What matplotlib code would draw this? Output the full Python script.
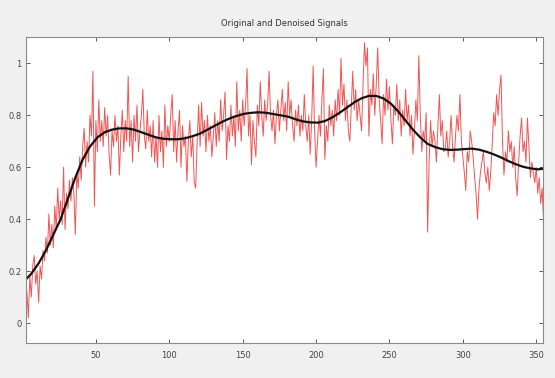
import numpy as np
import matplotlib
matplotlib.use("Agg")
import matplotlib.pyplot as plt

# Noisy original signal, samples 1..356
original = [
    -0.07, 0.05, 0.12, 0.02, 0.18, 0.10, 0.22, 0.26, 0.15, 0.20,
    0.08, 0.22, 0.17, 0.28, 0.24, 0.33, 0.27, 0.42, 0.30, 0.38,
    0.29, 0.45, 0.36, 0.52, 0.40, 0.47, 0.38, 0.60, 0.36, 0.50,
    0.44, 0.55, 0.47, 0.56, 0.50, 0.34, 0.58, 0.52, 0.64, 0.55,
    0.68, 0.75, 0.60, 0.70, 0.62, 0.80, 0.72, 0.97, 0.45, 0.78,
    0.66, 0.86, 0.70, 0.78, 0.68, 0.83, 0.72, 0.80, 0.65, 0.57,
    0.74, 0.68, 0.80, 0.70, 0.76, 0.57, 0.72, 0.82, 0.66, 0.78,
    0.70, 0.95, 0.68, 0.78, 0.62, 0.80, 0.70, 0.84, 0.66, 0.74,
    0.80, 0.90, 0.72, 0.67, 0.82, 0.70, 0.76, 0.64, 0.78, 0.62,
    0.72, 0.60, 0.80, 0.66, 0.74, 0.60, 0.84, 0.68, 0.76, 0.70,
    0.80, 0.88, 0.66, 0.78, 0.62, 0.74, 0.82, 0.60, 0.76, 0.68,
    0.72, 0.545, 0.70, 0.78, 0.64, 0.72, 0.54, 0.52, 0.70, 0.84,
    0.68, 0.85, 0.72, 0.78, 0.66, 0.80, 0.70, 0.76, 0.64, 0.72,
    0.81, 0.68, 0.78, 0.70, 0.86, 0.74, 0.80, 0.89, 0.63, 0.76,
    0.70, 0.84, 0.72, 0.80, 0.68, 0.93, 0.74, 0.82, 0.70, 0.86,
    0.76, 0.84, 0.98, 0.72, 0.80, 0.61, 0.78, 0.70, 0.64, 0.84,
    0.76, 0.93, 0.80, 0.72, 0.86, 0.78, 0.84, 0.97, 0.80, 0.74,
    0.82, 0.69, 0.80, 0.86, 0.74, 0.82, 0.90, 0.78, 0.85, 0.74,
    0.93, 0.80, 0.86, 0.76, 0.70, 0.82, 0.76, 0.84, 0.72, 0.80,
    0.74, 0.88, 0.76, 0.70, 0.80, 0.65, 0.78, 0.99, 0.74, 0.60,
    0.70, 0.80, 0.72, 0.86, 0.98, 0.63, 0.76, 0.70, 0.84, 0.76,
    0.82, 0.72, 0.86, 0.78, 0.90, 0.80, 1.02, 0.84, 0.92, 0.78,
    0.86, 0.74, 0.70, 0.84, 0.97, 0.82, 0.90, 0.78, 0.86, 0.80,
    0.74, 0.92, 1.08, 0.99, 1.06, 0.72, 0.90, 0.84, 0.96, 0.80,
    0.92, 1.06, 0.86, 0.78, 0.69, 0.88, 0.80, 0.94, 0.82, 0.91,
    0.78, 0.69, 0.84, 0.80, 0.92, 0.78, 0.86, 0.72, 0.82, 0.76,
    0.90, 0.78, 0.84, 0.72, 0.80, 0.65, 0.74, 0.86, 0.78, 1.03,
    0.80, 0.66, 0.74, 0.70, 0.81, 0.35, 0.62, 0.78, 0.68, 0.74,
    0.70, 0.62, 0.76, 0.88, 0.72, 0.78, 0.66, 0.67, 0.74, 0.64,
    0.70, 0.80, 0.68, 0.62, 0.72, 0.80, 0.74, 0.88, 0.70, 0.64,
    0.58, 0.51, 0.66, 0.62, 0.74, 0.70, 0.64, 0.56, 0.50, 0.40,
    0.52, 0.58, 0.62, 0.66, 0.58, 0.54, 0.60, 0.51, 0.58, 0.69,
    0.81, 0.76, 0.88, 0.80, 0.90, 0.955, 0.70, 0.57, 0.66, 0.62,
    0.74, 0.66, 0.70, 0.60, 0.68, 0.56, 0.49, 0.62, 0.72, 0.79,
    0.66, 0.70, 0.62, 0.79, 0.68, 0.56, 0.62, 0.58, 0.54, 0.60,
    0.50, 0.56, 0.46, 0.52, 0.39, 0.44,
]

# Denoised signal, sampled every 5 samples (x = 1, 6, ..., 356)
denoised_x = list(range(1, 357, 5))
denoised = [
    0.16, 0.19, 0.23, 0.28, 0.34, 0.40, 0.48, 0.56, 0.63, 0.68,
    0.715, 0.735, 0.745, 0.75, 0.75, 0.745, 0.735, 0.725, 0.715, 0.71,
    0.708, 0.708, 0.712, 0.72, 0.73, 0.745, 0.76, 0.775, 0.788, 0.798,
    0.806, 0.81, 0.812, 0.81, 0.805, 0.80, 0.795, 0.785, 0.777, 0.773,
    0.772, 0.778, 0.792, 0.81, 0.83, 0.85, 0.866, 0.875, 0.875, 0.865,
    0.845, 0.815, 0.78, 0.745, 0.715, 0.69, 0.678, 0.67, 0.667, 0.668,
    0.67, 0.672, 0.668, 0.66, 0.65, 0.638, 0.624, 0.612, 0.602, 0.596,
    0.592, 0.595,
]

x_ticks = [50, 100, 150, 200, 250, 300, 350]
y_ticks = [0, 0.2, 0.4, 0.6, 0.8, 1.0]
y_tick_labels = ["0", "0.2", "0.4", "0.6", "0.8", "1"]
title = "Original and Denoised Signals"

fig = plt.figure(figsize=(5.55, 3.78), dpi=100, facecolor="#f0f0f0")
ax = fig.add_axes([26 / 555, 1 - 343 / 378, (543 - 26) / 555, (343 - 37) / 378])
ax.set_facecolor("white")

x = np.arange(1, len(original) + 1)
ax.plot(x, original, color="#f03535", linewidth=0.7, alpha=0.85)
ax.plot(denoised_x, denoised, color="#111111", linewidth=1.6)

ax.set_xlim(2.4, 354.6)
ax.set_ylim(-0.077, 1.102)
ax.set_xticks(x_ticks)
ax.set_xticklabels([str(t) for t in x_ticks])
ax.set_yticks(y_ticks)
ax.set_yticklabels(y_tick_labels)

ax.tick_params(direction="in", length=3, width=0.6, top=True, right=True,
               labelsize=6, colors="#444444", pad=3)
ax.tick_params(axis="x", pad=6)
for s in ax.spines.values():
    s.set_color("#8a8a8a")
    s.set_linewidth(0.8)

ax.set_title(title, fontsize=6, color="#333333", pad=8)

fig.savefig("out.png", dpi=100, facecolor=fig.get_facecolor())
